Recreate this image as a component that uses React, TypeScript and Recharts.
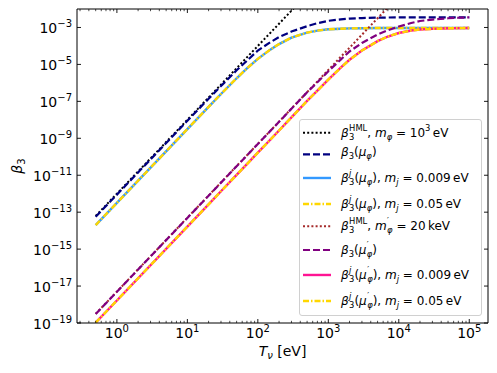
import React from 'react';
import { LineChart, Line, XAxis, YAxis } from 'recharts';

// Neutrino temperature T_nu [eV]
const T_EV = [0.5, 1, 10, 20, 30, 50, 70, 100, 150, 200, 300, 500, 700, 1000, 1500, 2000, 3000, 5000, 7000, 1e4, 1.5e4, 2e4, 3e4, 5e4, 7e4, 1e5];

// beta_3^HML, m_phi = 10^3 eV (black dotted)
const HML_M1KEV = [6.25e-14, 1e-12, 1e-8, 1.6e-7, 8.1e-7, 6.25e-6, 2.4e-5, 1e-4, 5.06e-4, 1.6e-3, 8.1e-3, 6.25e-2, null, null, null, null, null, null, null, null, null, null, null, null, null, null];
// beta_3(mu_phi) (navy dashed)
const BETA_MU = [5.62e-14, 8.91e-13, 8.91e-9, 1.38e-7, 6.76e-7, 4.79e-6, 1.58e-5, 5.62e-5, 1.58e-4, 3.02e-4, 6.03e-4, 1.17e-3, 1.7e-3, 2.29e-3, 2.75e-3, 3.02e-3, 3.24e-3, 3.39e-3, 3.47e-3, 3.55e-3, 3.55e-3, 3.55e-3, 3.55e-3, 3.55e-3, 3.55e-3, 3.55e-3];
// beta_3^j(mu_phi), m_j = 0.009 eV (blue solid)
const BETAJ_MU_009 = [2.0e-14, 3.16e-13, 3.16e-9, 5.01e-8, 2.51e-7, 1.78e-6, 6.03e-6, 2.0e-5, 6.31e-5, 1.26e-4, 2.82e-4, 5.25e-4, 6.76e-4, 7.94e-4, 8.51e-4, 8.91e-4, 9.12e-4, 9.33e-4, 9.33e-4, 9.33e-4, 9.33e-4, 9.33e-4, 9.33e-4, 9.33e-4, 9.33e-4, 9.33e-4];
// beta_3^j(mu_phi), m_j = 0.05 eV (gold dash-dot)
const BETAJ_MU_05 = [2.0e-14, 3.16e-13, 3.16e-9, 5.01e-8, 2.51e-7, 1.78e-6, 6.03e-6, 2.0e-5, 6.31e-5, 1.26e-4, 2.82e-4, 5.25e-4, 6.76e-4, 7.94e-4, 8.51e-4, 8.91e-4, 9.12e-4, 9.33e-4, 9.33e-4, 9.33e-4, 9.33e-4, 9.33e-4, 9.33e-4, 9.33e-4, 9.33e-4, 9.33e-4];
// beta_3^HML, m'_phi = 20 keV (brown dotted)
const HML_M20KEV = [3.16e-19, 5.01e-18, 5.01e-14, 7.94e-13, 4.07e-12, 3.16e-11, 1.2e-10, 5.01e-10, 2.51e-9, 7.94e-9, 4.07e-8, 3.16e-7, 1.2e-6, 5.01e-6, 2.57e-5, 7.94e-5, 4.07e-4, 3.16e-3, 1.2e-2, 5.01e-2, null, null, null, null, null, null];
// beta_3(mu'_phi) (purple dashed)
const BETA_MUP = [3.09e-19, 4.9e-18, 4.9e-14, 7.76e-13, 3.98e-12, 3.09e-11, 1.17e-10, 4.9e-10, 2.45e-9, 7.76e-9, 3.98e-8, 3.09e-7, 1.07e-6, 4.27e-6, 1.82e-5, 5.01e-5, 1.45e-4, 4.17e-4, 7.08e-4, 1.12e-3, 1.74e-3, 2.24e-3, 2.69e-3, 3.16e-3, 3.35e-3, 3.51e-3];
// beta_3^j(mu'_phi), m_j = 0.009 eV (pink solid)
const BETAJ_MUP_009 = [1.05e-19, 1.66e-18, 1.66e-14, 2.63e-13, 1.35e-12, 1.05e-11, 3.98e-11, 1.66e-10, 8.32e-10, 2.63e-9, 1.35e-8, 1.05e-7, 3.8e-7, 1.51e-6, 6.61e-6, 1.78e-5, 5.62e-5, 1.82e-4, 3.24e-4, 5.01e-4, 6.84e-4, 7.76e-4, 8.41e-4, 9.02e-4, 9.23e-4, 9.33e-4];
// beta_3^j(mu'_phi), m_j = 0.05 eV (gold dash-dot)
const BETAJ_MUP_05 = [1.05e-19, 1.66e-18, 1.66e-14, 2.63e-13, 1.35e-12, 1.05e-11, 3.98e-11, 1.66e-10, 8.32e-10, 2.63e-9, 1.35e-8, 1.05e-7, 3.8e-7, 1.51e-6, 6.61e-6, 1.78e-5, 5.62e-5, 1.82e-4, 3.24e-4, 5.01e-4, 6.84e-4, 7.76e-4, 8.41e-4, 9.02e-4, 9.23e-4, 9.33e-4];

const X_MAJOR = [1, 10, 100, 1000, 10000, 100000];
const X_MINOR = [
  0.3, 0.4, 0.5, 0.6, 0.7, 0.8, 0.9,
  2, 3, 4, 5, 6, 7, 8, 9,
  20, 30, 40, 50, 60, 70, 80, 90,
  200, 300, 400, 500, 600, 700, 800, 900,
  2000, 3000, 4000, 5000, 6000, 7000, 8000, 9000,
  20000, 30000, 40000, 50000, 60000, 70000, 80000, 90000,
];
const Y_MAJOR = [1e-19, 1e-17, 1e-15, 1e-13, 1e-11, 1e-9, 1e-7, 1e-5, 1e-3];
const X_DOMAIN = [0.2716, 184500];
const Y_DOMAIN = [1e-19, 1e-2];

const FONT = '"DejaVu Sans", sans-serif';

const data = T_EV.map((t, i) => ({
  T: t,
  hml1: HML_M1KEV[i],
  bmu: BETA_MU[i],
  bjmu009: BETAJ_MU_009[i],
  bjmu05: BETAJ_MU_05[i],
  hml20: HML_M20KEV[i],
  bmup: BETA_MUP[i],
  bjmup009: BETAJ_MUP_009[i],
  bjmup05: BETAJ_MUP_05[i],
}));

const expLabel = (v: number) => {
  const e = Math.round(Math.log10(v));
  return String(e).replace('-', '\u2212');
};
const isXMajor = (v: number) => X_MAJOR.some((m) => Math.abs(m - v) / m < 1e-9);

const BottomTick = (props: any) => {
  const { x, y, payload } = props;
  const major = isXMajor(payload.value);
  return (
    <g>
      <line x1={x} x2={x} y1={y} y2={y - (major ? 4 : 2.2)} stroke="#000" strokeWidth={major ? 0.9 : 0.7} />
      {major && (
        <text x={x} y={y + 15} textAnchor="middle" fontFamily={FONT} fontSize={14} fill="#000">
          10
          <tspan fontSize={10} dy={-6}>{expLabel(payload.value)}</tspan>
        </text>
      )}
    </g>
  );
};

const TopTick = (props: any) => {
  const { x, y, payload } = props;
  const major = isXMajor(payload.value);
  return <line x1={x} x2={x} y1={y} y2={y + (major ? 4 : 2.2)} stroke="#000" strokeWidth={major ? 0.9 : 0.7} />;
};

const LeftTick = (props: any) => {
  const { x, y, payload } = props;
  return (
    <g>
      <line x1={x} x2={x + 4} y1={y} y2={y} stroke="#000" strokeWidth={0.9} />
      <text x={x - 5} y={y + 5.5} textAnchor="end" fontFamily={FONT} fontSize={14} fill="#000">
        10
        <tspan fontSize={10} dy={-6}>{expLabel(payload.value)}</tspan>
      </text>
    </g>
  );
};

const RightTick = (props: any) => {
  const { x, y } = props;
  return <line x1={x} x2={x - 4} y1={y} y2={y} stroke="#000" strokeWidth={0.9} />;
};

const XTitle = (props: any) => {
  const vb = props.viewBox;
  return (
    <text x={vb.x + vb.width / 2} y={vb.y + 33} textAnchor="middle" fontFamily={FONT} fontSize={14} fill="#000">
      <tspan fontStyle="italic">T</tspan>
      <tspan fontStyle="italic" fontSize={10} dy={3}>ν</tspan>
      <tspan dy={-3}>{'\u00A0[eV]'}</tspan>
    </text>
  );
};

const YTitle = (props: any) => {
  const vb = props.viewBox;
  const cy = vb.y + vb.height / 2;
  return (
    <text transform={`translate(22, ${cy}) rotate(-90)`} textAnchor="middle" fontFamily={FONT} fontSize={14} fill="#000">
      <tspan fontStyle="italic">β</tspan>
      <tspan fontSize={10} dy={3}>3</tspan>
    </text>
  );
};

// ---------- legend math helpers ----------
const It = ({ children }: any) => <span style={{ fontStyle: 'italic' }}>{children}</span>;
const SupSub = ({ sup, sub }: any) => (
  <span style={{ display: 'inline-block', verticalAlign: '-0.38em', fontSize: '0.7em', lineHeight: 1.05, marginLeft: '0.05em' }}>
    <span style={{ display: 'block' }}>{sup}</span>
    <span style={{ display: 'block' }}>{sub}</span>
  </span>
);
const Sub = ({ children }: any) => <span style={{ fontSize: '0.7em', verticalAlign: '-0.38em' }}>{children}</span>;
const Sup = ({ children }: any) => <span style={{ fontSize: '0.7em', verticalAlign: '0.75em' }}>{children}</span>;

const phi = <It>φ</It>;

const LEGEND_ITEMS = [
  {
    color: '#000000', dash: '2 2.2', width: 2,
    label: (<><It>β</It><SupSub sup="HML" sub="3" />, <It>m</It><Sub>{phi}</Sub> = 10<Sup>3</Sup>{'\u2009'}eV</>),
  },
  {
    color: '#000080', dash: '7 3', width: 2.2,
    label: (<><It>β</It><Sub>3</Sub>(<It>μ</It><Sub>{phi}</Sub>)</>),
  },
  {
    color: '#3399ff', dash: undefined, width: 2.4,
    label: (<><It>β</It><SupSub sup={<It>j</It>} sub="3" />(<It>μ</It><Sub>{phi}</Sub>), <It>m</It><Sub><It>j</It></Sub> = 0.009{'\u2009'}eV</>),
  },
  {
    color: '#ffd700', dash: '6 2 1.5 2', width: 2.4,
    label: (<><It>β</It><SupSub sup={<It>j</It>} sub="3" />(<It>μ</It><Sub>{phi}</Sub>), <It>m</It><Sub><It>j</It></Sub> = 0.05{'\u2009'}eV</>),
  },
  {
    color: '#a52a2a', dash: '2 2.2', width: 2,
    label: (<><It>β</It><SupSub sup="HML" sub="3" />, <It>m</It><SupSub sup="′" sub={phi} /> = 20{'\u2009'}keV</>),
  },
  {
    color: '#800080', dash: '7 3', width: 2.2,
    label: (<><It>β</It><Sub>3</Sub>(<It>μ</It><SupSub sup="′" sub={phi} />)</>),
  },
  {
    color: '#ff1493', dash: undefined, width: 2.4,
    label: (<><It>β</It><SupSub sup={<It>j</It>} sub="3" />(<It>μ</It><SupSub sup="′" sub={phi} />), <It>m</It><Sub><It>j</It></Sub> = 0.009{'\u2009'}eV</>),
  },
  {
    color: '#ffd700', dash: '6 2 1.5 2', width: 2.4,
    label: (<><It>β</It><SupSub sup={<It>j</It>} sub="3" />(<It>μ</It><SupSub sup="′" sub={phi} />), <It>m</It><Sub><It>j</It></Sub> = 0.05{'\u2009'}eV</>),
  },
];
const LEGEND_ROW_Y = [12.7, 34.3, 57.7, 83.7, 106.3, 129.7, 155.3, 181];

const Legend8 = () => (
  <div
    style={{
      position: 'absolute', left: 299, top: 119, width: 183, height: 197, boxSizing: 'border-box',
      border: '1px solid #d0d0d0', borderRadius: 3, background: 'rgba(255,255,255,0.8)',
      fontFamily: FONT, fontSize: 12, color: '#000',
    }}
  >
    {LEGEND_ITEMS.map((it, i) => (
      <div
        key={i}
        style={{
          position: 'absolute', left: 3, top: LEGEND_ROW_Y[i], transform: 'translateY(-50%)',
          display: 'flex', alignItems: 'center', whiteSpace: 'nowrap', lineHeight: 1.1,
        }}
      >
        <svg width={28} height={8} style={{ display: 'block', flex: 'none' }}>
          <line x1={0} x2={28} y1={4} y2={4} stroke={it.color} strokeWidth={it.width} strokeDasharray={it.dash} />
        </svg>
        <span style={{ marginLeft: 10 }}>{it.label}</span>
      </div>
    ))}
  </div>
);

const lineCommon = {
  type: 'linear' as const,
  dot: false,
  activeDot: false,
  isAnimationActive: false,
  connectNulls: false,
};

export default function App() {
  return (
    <div style={{ position: 'absolute', left: 0, top: 0, width: 497, height: 373, background: '#fff' }}>
      <LineChart width={497} height={373} data={data} margin={{ top: 8, right: 8, bottom: 0, left: 0 }}>
        <XAxis
          dataKey="T" type="number" scale="log" domain={X_DOMAIN} allowDataOverflow
          ticks={[...X_MAJOR, ...X_MINOR]} interval={0} tickSize={0} tickMargin={0} tickLine={false}
          tick={BottomTick} height={50} axisLine={{ stroke: '#000', strokeWidth: 1 }}
          label={XTitle}
        />
        <XAxis
          xAxisId="top" orientation="top" dataKey="T" type="number" scale="log" domain={X_DOMAIN} allowDataOverflow
          ticks={[...X_MAJOR, ...X_MINOR]} interval={0} tickSize={0} tickMargin={0} tickLine={false}
          tick={TopTick} height={1} axisLine={{ stroke: '#000', strokeWidth: 1 }}
        />
        <YAxis
          type="number" scale="log" domain={Y_DOMAIN} allowDataOverflow
          ticks={Y_MAJOR} interval={0} tickSize={0} tickMargin={0} tickLine={false}
          tick={LeftTick} width={77} axisLine={{ stroke: '#000', strokeWidth: 1 }}
          label={YTitle}
        />
        <YAxis
          yAxisId="right" orientation="right" type="number" scale="log" domain={Y_DOMAIN} allowDataOverflow
          ticks={Y_MAJOR} interval={0} tickSize={0} tickMargin={0} tickLine={false}
          tick={RightTick} width={1} axisLine={{ stroke: '#000', strokeWidth: 1 }}
        />
        <Line {...lineCommon} dataKey="hml1" stroke="#000000" strokeWidth={2} strokeDasharray="2 2.2" />
        <Line {...lineCommon} dataKey="bmu" stroke="#000080" strokeWidth={2.2} strokeDasharray="7 3" />
        <Line {...lineCommon} dataKey="bjmu009" stroke="#3399ff" strokeWidth={2.4} />
        <Line {...lineCommon} dataKey="bjmu05" stroke="#ffd700" strokeWidth={2.4} strokeDasharray="6 2 1.5 2" />
        <Line {...lineCommon} dataKey="hml20" stroke="#a52a2a" strokeWidth={2} strokeDasharray="2 2.2" />
        <Line {...lineCommon} dataKey="bmup" stroke="#800080" strokeWidth={2.2} strokeDasharray="7 3" />
        <Line {...lineCommon} dataKey="bjmup009" stroke="#ff1493" strokeWidth={2.4} />
        <Line {...lineCommon} dataKey="bjmup05" stroke="#ffd700" strokeWidth={2.4} strokeDasharray="6 2 1.5 2" />
      </LineChart>
      <Legend8 />
    </div>
  );
}
